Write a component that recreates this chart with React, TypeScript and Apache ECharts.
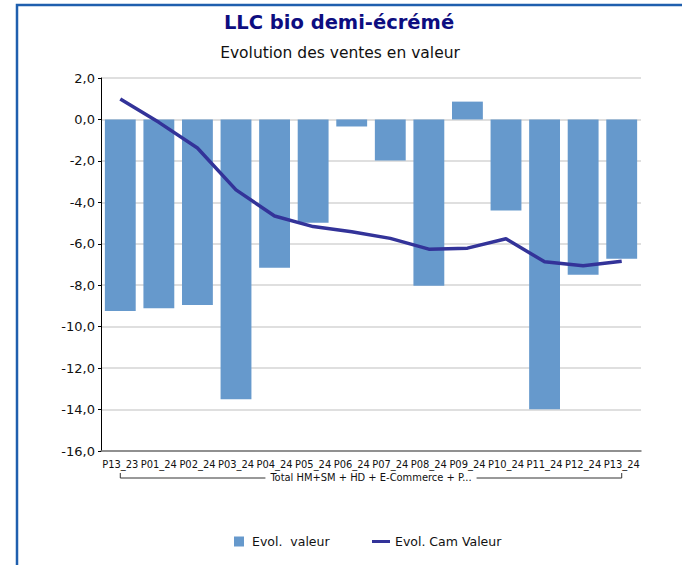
import React, { useEffect, useRef } from "react";
import * as echarts from "echarts";

const categories = [
  "P13_23", "P01_24", "P02_24", "P03_24", "P04_24", "P05_24", "P06_24",
  "P07_24", "P08_24", "P09_24", "P10_24", "P11_24", "P12_24", "P13_24",
];
const evolValeur = [
  -9.24, -9.11, -8.95, -13.5, -7.16, -4.98, -0.34,
  -1.98, -8.03, 0.86, -4.4, -13.98, -7.5, -6.72,
];
const evolCamValeur = [
  0.99, -0.14, -1.38, -3.4, -4.66, -5.17, -5.42,
  -5.74, -6.26, -6.21, -5.76, -6.87, -7.06, -6.84,
];
const yMin = -16;
const yMax = 2;
const yInterval = 2;
const groupLabel = "Total HM+SM + HD + E-Commerce + P...";
const seriesNames = ["Evol.  valeur", "Evol. Cam Valeur"];
const titleText = "LLC bio demi-écrémé";
const subtitleText = "Evolution des ventes en valeur";

const FONT = "'DejaVu Sans', Verdana, sans-serif";
const XFONT = "'DejaVu Sans Condensed', 'Liberation Sans Narrow', 'Liberation Sans', sans-serif";

export default function App() {
  const ref = useRef<HTMLDivElement>(null);
  useEffect(() => {
    if (!ref.current) return;
    const chart = echarts.init(ref.current, undefined, { renderer: "svg" });
    chart.setOption({
      animation: false,
      backgroundColor: "#ffffff",
      title: [
        {
          text: titleText,
          left: 334,
          textAlign: "center",
          top: 7,
          textStyle: { fontFamily: FONT, fontSize: 19.5, fontWeight: "bold", color: "#0d0d80" },
        },
        {
          text: subtitleText,
          left: 335,
          textAlign: "center",
          top: 40,
          textStyle: { fontFamily: FONT, fontSize: 15.5, fontWeight: "normal", color: "#111" },
        },
      ],
      grid: { left: 101, right: 41, top: 78, bottom: 114, containLabel: false },
      legend: [
        {
          data: [seriesNames[0]],
          left: 229,
          top: 530,
          itemWidth: 10,
          itemHeight: 10,
          icon: "rect",
          textStyle: { fontFamily: FONT, fontSize: 12.5, color: "#111", padding: [0, 0, 0, 3] },
        },
        {
          data: [seriesNames[1]],
          left: 367,
          top: 530,
          itemWidth: 18,
          itemHeight: 3,
          icon: "rect",
          textStyle: { fontFamily: FONT, fontSize: 12.5, color: "#111", padding: [0, 0, 0, 0] },
        },
      ],
      xAxis: {
        type: "category",
        data: categories,
        axisLine: { show: true, onZero: false, lineStyle: { color: "#777", width: 1.5 } },
        axisTick: { show: false },
        axisLabel: {
          interval: 0,
          margin: 8,
          fontFamily: XFONT,
          fontSize: 11,
          color: "#111",
        },
        splitLine: { show: false },
      },
      yAxis: {
        type: "value",
        min: yMin,
        max: yMax,
        interval: yInterval,
        axisLine: { show: true, lineStyle: { color: "#000", width: 1 } },
        axisTick: { show: true, length: 3, lineStyle: { color: "#000" } },
        axisLabel: {
          margin: 6,
          fontFamily: FONT,
          fontSize: 13,
          color: "#111",
          formatter: (v: number) => v.toFixed(1).replace(".", ","),
        },
        splitLine: { show: true, lineStyle: { color: "#d4d4d4", width: 1.5 } },
      },
      series: [
        {
          name: seriesNames[0],
          type: "bar",
          data: evolValeur,
          barCategoryGap: "20%",
          itemStyle: { color: "#6699cc" },
          z: 2,
        },
        {
          name: seriesNames[1],
          type: "line",
          data: evolCamValeur,
          symbol: "none",
          lineStyle: { color: "#333399", width: 3.5 },
          itemStyle: { color: "#333399" },
          z: 3,
        },
      ],
    });

    const x0 = chart.convertToPixel({ xAxisIndex: 0 }, categories[0]) as number;
    const x1 = chart.convertToPixel({ xAxisIndex: 0 }, categories[categories.length - 1]) as number;
    const yLine = 478;
    const yTop = 473;
    chart.setOption({
      graphic: [
        {
          type: "rect",
          shape: { x: 17, y: 5, width: 720, height: 620 },
          style: { fill: "none", stroke: "#1f5fae", lineWidth: 2.5 },
          silent: true,
          z: 10,
        },
        {
          type: "polyline",
          shape: { points: [[x0, yTop], [x0, yLine], [x1, yLine], [x1, yTop]] },
          style: { fill: "none", stroke: "#333", lineWidth: 1 },
          silent: true,
        },
        {
          type: "text",
          x: (x0 + x1) / 2,
          y: yLine - 1,
          style: {
            text: groupLabel,
            fontFamily: XFONT,
            fontSize: 11,
            fill: "#111",
            align: "center",
            verticalAlign: "middle",
            backgroundColor: "#ffffff",
            padding: [0, 5],
          },
          silent: true,
          z: 11,
        },
      ],
    });
    return () => chart.dispose();
  }, []);
  return (
    <div
      ref={ref}
      style={{ position: "fixed", left: 0, top: 0, width: 682, height: 565 }}
    />
  );
}
